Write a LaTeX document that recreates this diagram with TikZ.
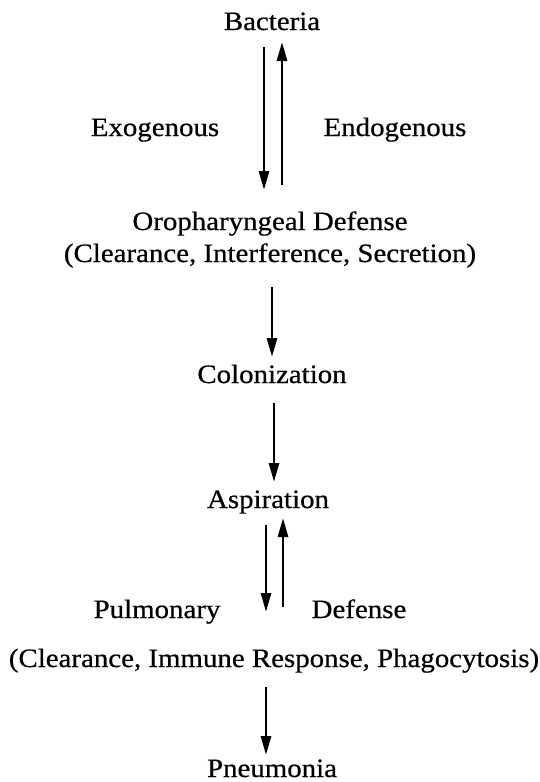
\documentclass[tikz,border=0pt]{standalone}
\usepackage{fontspec}
\setmainfont[FakeStretch=1.09,FakeBold=0.6]{Liberation Serif}
\usetikzlibrary{arrows.meta}
\begin{document}
\begin{tikzpicture}[x=1pt,y=-1pt,
  lbl/.style={anchor=base,inner sep=0pt,font=\fontsize{26.5}{30}\selectfont},
  arr/.style={line width=2.8pt,-{Triangle[length=19pt,width=10pt]}}]
\useasboundingbox (0,0) rectangle (540,782);
\node[lbl] (bact) at (272,30) {Bacteria};
\node[lbl] (exo) at (155,136) {Exogenous};
\node[lbl] (endo) at (395,136) {Endogenous};
\node[lbl] (oro) at (270,230) {Oropharyngeal Defense};
\node[lbl] (oro2) at (270,262) {(Clearance, Interference, Secretion)};
\node[lbl] (col) at (272,383) {Colonization};
\node[lbl] (asp) at (268,508) {Aspiration};
\node[lbl] (pul) at (157,618) {Pulmonary};
\node[lbl] (def) at (359,618) {Defense};
\node[lbl] (pul2) at (274,667) {(Clearance, Immune Response, Phagocytosis)};
\node[lbl] (pneu) at (272,777) {Pneumonia};
% arrows
\draw[arr] ([xshift=-8pt,yshift=-17pt]bact.base) -- ([xshift=-6pt,yshift=40pt]oro.base);
\draw[arr] ([xshift=12pt,yshift=45pt]oro.base) -- ([xshift=10pt,yshift=-12pt]bact.base);
\draw[arr] ([xshift=2pt,yshift=-25pt]oro2.base) -- ([xshift=0pt,yshift=26pt]col.base);
\draw[arr] ([xshift=2pt,yshift=-20pt]col.base) -- ([xshift=6pt,yshift=26pt]asp.base);
\draw[arr] ([xshift=-2pt,yshift=-17pt]asp.base) -- ([xshift=-2pt,yshift=-104pt]asp.base);
\draw[arr] ([xshift=15pt,yshift=-99pt]asp.base) -- ([xshift=15pt,yshift=-10pt]asp.base);
\draw[arr] ([xshift=-8pt,yshift=-20pt]pul2.base) -- ([xshift=-6pt,yshift=22pt]pneu.base);
\end{tikzpicture}
\end{document}
